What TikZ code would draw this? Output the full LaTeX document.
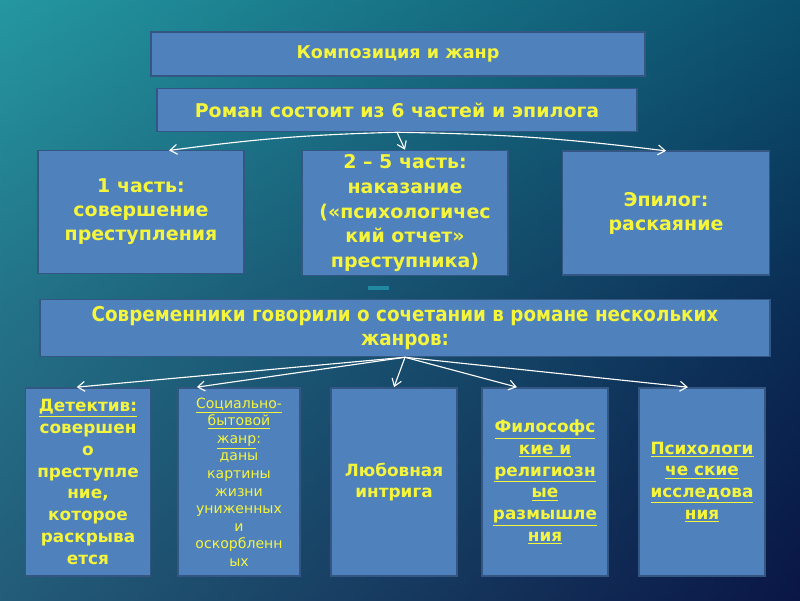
\documentclass[tikz,border=0pt]{standalone}
\usepackage{fontspec}
\setmainfont{DejaVu Sans}
\newfontfamily\condfont{DejaVu Sans Condensed}
\usetikzlibrary{arrows.meta}
\definecolor{boxblue}{RGB}{79,129,189}
\definecolor{boxedge}{RGB}{52,86,130}
\definecolor{txtyellow}{RGB}{245,245,60}
\definecolor{bgteal}{RGB}{12,140,150}
\definecolor{bgnavy}{RGB}{10,22,70}
\tikzset{
  card/.style={draw=boxedge, line width=1.2pt, fill=boxblue, text=txtyellow,
    font=\bfseries, align=center, inner sep=2pt},
  link/.style={white, line width=0.8pt, -{Straight Barb[length=5pt,width=7pt]}}
}
\begin{document}
\begin{tikzpicture}[x=0.025cm,y=-0.025cm]
  % Background
  \useasboundingbox (0,0) rectangle (800,600);
  \shade[top color=bgteal, bottom color=bgnavy, middle color=bgteal!40!bgnavy] (0,0) rectangle (800,600);
  \shade[left color=bgteal!80, right color=bgnavy, opacity=0.5] (0,0) rectangle (800,600);

  % Upper boxes
  \node[card, font=\bfseries\fontsize{12.5}{14}\selectfont,
        minimum width=12.35cm, minimum height=1.1cm] (title) at (398,54) {Композиция и жанр};
  \node[card, font=\bfseries\fontsize{13.5}{15}\selectfont,
        minimum width=12cm, minimum height=1.07cm] (roman) at (397,110) {Роман состоит из 6 частей и эпилога};
  \node[card, font=\bfseries\fontsize{13.5}{17}\selectfont,
        minimum width=5.15cm, minimum height=3.07cm] (part1) at (141,212) {1 часть:\\совершение\\преступления};
  \node[card, font=\bfseries\fontsize{13.5}{17.5}\selectfont,
        minimum width=5.15cm, minimum height=3.12cm] (part2) at (405,213) {2 – 5 часть:\\наказание\\(«психологичес\\кий отчет»\\преступника)};
  \node[card, font=\bfseries\fontsize{13.5}{17}\selectfont,
        minimum width=5.17cm, minimum height=3.1cm] (epil) at (666,213) {Эпилог:\\раскаяние};

  % Small bar
  \fill[bgteal!70!boxblue] (368,286) rectangle (389,290);

  % Contemporaries box
  \node[card, font=\condfont\bfseries\fontsize{14.5}{17}\selectfont,
        minimum width=18.25cm, minimum height=1.42cm] (contemp) at (405,328)
        {Современники говорили о сочетании в романе нескольких\\жанров:};

  % Lower boxes
  \node[card, font=\bfseries\fontsize{12}{15.5}\selectfont,
        minimum width=3.12cm, minimum height=4.7cm] (detect) at (88,482)
        {\underline{Детектив:}\\совершен\\о\\преступле\\ние,\\которое\\раскрыва\\ется};
  \node[card, font=\fontsize{10}{12.5}\selectfont,
        minimum width=3.05cm, minimum height=4.7cm] (social) at (239,482)
        {\underline{Социально-}\\\underline{бытовой}\\\underline{жанр}:\\даны\\картины\\жизни\\униженных\\и\\оскорбленн\\ых};
  \node[card, font=\bfseries\fontsize{12}{15.5}\selectfont,
        minimum width=3.15cm, minimum height=4.7cm] (love) at (394,482)
        {Любовная\\интрига};
  \node[card, font=\bfseries\fontsize{12}{15.5}\selectfont,
        minimum width=3.15cm, minimum height=4.7cm] (philo) at (545,482)
        {\underline{Философс}\\\underline{кие и}\\\underline{религиозн}\\\underline{ые}\\\underline{размышле}\\\underline{ния}};
  \node[card, font=\bfseries\fontsize{12}{15.5}\selectfont,
        minimum width=3.15cm, minimum height=4.7cm] (psych) at (702,482)
        {\underline{Психологи}\\\underline{че ские}\\\underline{исследова}\\\underline{ния}};

  % Connectors
  \coordinate (rfoot) at (roman.south);
  \draw[link] (rfoot) to[bend right=3] ([xshift=20pt,yshift=-0.5pt]part1.north);
  \draw[link] (rfoot) -- (part2.north);
  \draw[link] (rfoot) to[bend left=3] ([xshift=0pt,yshift=-0.5pt]epil.north);

  \coordinate (cfoot) at (contemp.south);
  \draw[link] (cfoot) -- ([xshift=-8pt]detect.north);
  \draw[link] (cfoot) -- ([xshift=-30pt]social.north);
  \draw[link] (cfoot) -- (love.north);
  \draw[link] (cfoot) -- ([xshift=-20pt]philo.north);
  \draw[link] (cfoot) -- ([xshift=-10pt]psych.north);
\end{tikzpicture}
\end{document}
